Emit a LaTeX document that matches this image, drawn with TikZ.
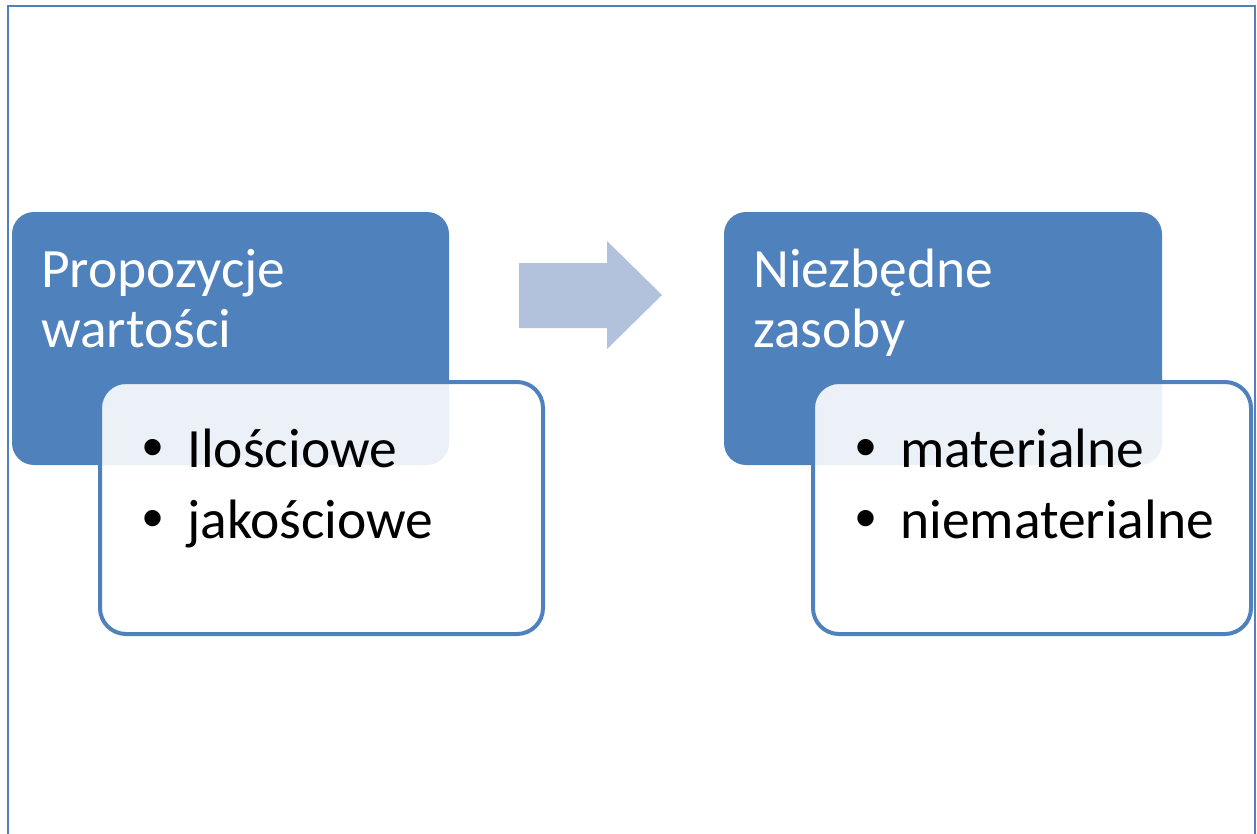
\documentclass[tikz,border=0pt]{standalone}
\usepackage{fontspec}
\setmainfont{Carlito}
\newfontfamily\bulletfont{Liberation Sans}
\definecolor{accent}{HTML}{4F81BD}
\definecolor{arrowfill}{HTML}{B3C2DC}
\tikzset{
  titlebox/.style={fill=accent, draw=none, rounded corners=22pt},
  listbox/.style={fill=white, fill opacity=0.89, draw=accent, draw opacity=1, line width=4pt, rounded corners=26pt},
  titletext/.style={anchor=base west, inner sep=0pt, align=left, text=white, font=\fontsize{55.5}{60}\selectfont},
  listtext/.style={anchor=base west, inner sep=0pt, align=left, text=black, font=\fontsize{55.5}{71}\selectfont},
  frameline/.style={draw=accent, line width=2.5pt},
  bigarrow/.style={fill=arrowfill, draw=none},
}
\newcommand{\bitem}[1]{\makebox[45pt][l]{\bulletfont\fontsize{60}{71}\selectfont\char"2022}#1}
\begin{document}
\begin{tikzpicture}[x=1pt, y=-1pt]
  \useasboundingbox (0,0) rectangle (1257,833);
  % open frame (left, top, right)
  \draw[frameline] (8,840) -- (8,6) -- (1255,6) -- (1255,840);

  % left group
  \path[titlebox] (12,212) rectangle (449,465);
  \path[listbox] (100,382) rectangle (543,634);
  \node[titletext] (t1) at (41,347) {Propozycje\\wartości};
  \node[listtext] (l1) at (142,538) {\bitem{Ilościowe}\\\bitem{jakościowe}};

  % arrow between the groups
  \fill[bigarrow] (519,263) -- (607,263) -- (607,241) -- (662,295) -- (607,349) -- (607,328) -- (519,328) -- cycle;

  % right group
  \path[titlebox] (724,212) rectangle (1162,465);
  \path[listbox] (813,382) rectangle (1251,634);
  \node[titletext] (t2) at (753,347) {Niezbędne\\zasoby};
  \node[listtext] (l2) at (855,538) {\bitem{materialne}\\\bitem{niematerialne}};
\end{tikzpicture}
\end{document}
